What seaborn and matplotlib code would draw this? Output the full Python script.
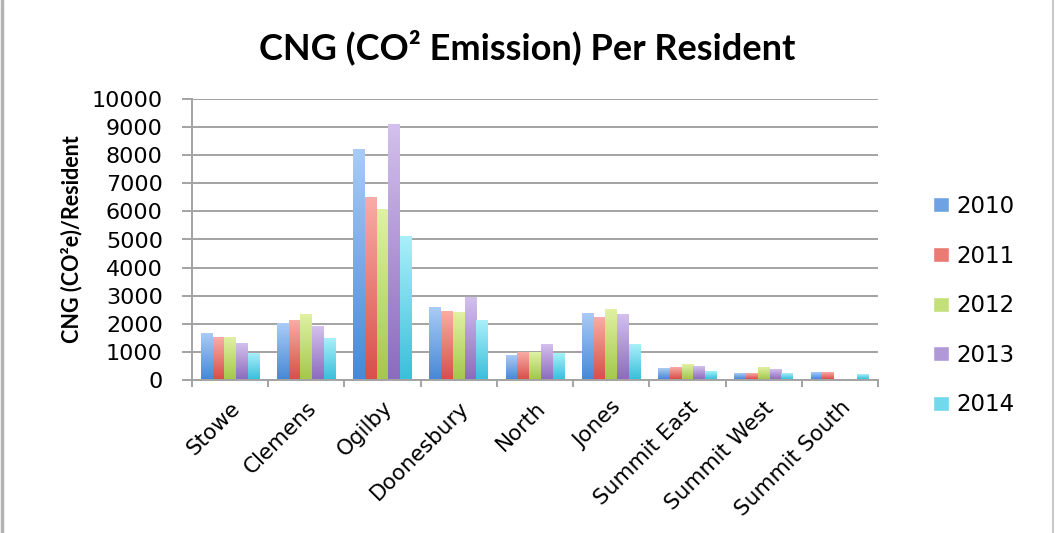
import numpy as np
import pandas as pd
import matplotlib
matplotlib.use("Agg")
import matplotlib.pyplot as plt
from matplotlib.lines import Line2D
import seaborn as sns

# Per-resident CNG emissions by district and year
districts = ["Stowe", "Clemens", "Ogilby", "Doonesbury", "North", "Jones",
             "Summit East", "Summit West", "Summit South"]
years = ["2010", "2011", "2012", "2013", "2014"]
v2010 = [1620, 2000, 8180, 2570, 850, 2330, 380, 180, 230]
v2011 = [1490, 2080, 6490, 2400, 960, 2190, 420, 180, 250]
v2012 = [1470, 2290, 6070, 2380, 950, 2480, 510, 400, 0]
v2013 = [1270, 1870, 9100, 2920, 1230, 2300, 460, 330, 0]
v2014 = [920, 1460, 5100, 2080, 900, 1230, 260, 190, 150]

series = {"2010": v2010, "2011": v2011, "2012": v2012, "2013": v2013, "2014": v2014}
df = pd.DataFrame(
    [(d, y, v) for y, vals in series.items() for d, v in zip(districts, vals)],
    columns=["district", "year", "value"],
)

# gradient colours per year: (top, bottom) plus a flat tone for the legend
tops = ["#a9cbf6", "#f8aca5", "#e0f1a3", "#d3c0ec", "#a9eff9"]
bottoms = ["#4889d6", "#d8504a", "#a4c84c", "#8c6cbe", "#3bbfdb"]
flat = ["#6fa2e2", "#ea7b73", "#c3df78", "#b198d6", "#72d8ec"]

sns.set_theme(style="white")
plt.rcParams["font.family"] = ["DejaVu Sans"]
plt.rcParams["text.color"] = "black"
plt.rcParams["axes.labelcolor"] = "black"

fig = plt.figure(figsize=(10.55, 5.33), dpi=100)
ax = fig.add_axes([192 / 1055, 1 - 379.5 / 533, (878 - 192) / 1055, (379.5 - 99.5) / 533])

sns.barplot(data=df, x="district", y="value", hue="year", order=districts,
            hue_order=years, palette=flat, width=0.77, gap=0,
            saturation=1, errorbar=None, ax=ax, legend=True, zorder=2)

# vertical gradient fill on every bar
n = 64
t = np.linspace(0, 1, n)[:, None, None]
for i, cont in enumerate(ax.containers):
    top = np.array(matplotlib.colors.to_rgb(tops[i]))
    bot = np.array(matplotlib.colors.to_rgb(bottoms[i]))
    grad = bot * (1 - t) + top * t
    for bar in cont:
        x0, w, h = bar.get_x(), bar.get_width(), bar.get_height()
        bar.set_edgecolor("none")
        if h <= 0:
            continue
        ax.imshow(grad, extent=[x0, x0 + w, 0, h], origin="lower",
                  aspect="auto", interpolation="bilinear", zorder=3)

ax.set_xlim(-0.5, len(districts) - 0.5)
ax.set_ylim(0, 10000)
ax.set_yticks(np.arange(0, 10001, 1000))
ax.grid(axis="y", color="#a3a3a3", linewidth=1.4, zorder=0)
ax.set_axisbelow(True)

for side in ["top", "right"]:
    ax.spines[side].set_visible(False)
for side in ["left", "bottom"]:
    ax.spines[side].set_color("#a3a3a3")
    ax.spines[side].set_linewidth(1.4)

ax.tick_params(axis="y", which="major", length=7, width=1.4, color="#a3a3a3",
               labelsize=16, pad=14, labelcolor="black", left=True)
ax.set_xticks(np.arange(len(districts)))
ax.set_xticks(np.arange(-0.5, len(districts), 1), minor=True)
ax.tick_params(axis="x", which="major", length=0, labelsize=15.5, pad=13,
               labelcolor="black")
ax.tick_params(axis="x", which="minor", length=5, width=1.4, color="#a3a3a3",
               bottom=True)
for lbl in ax.get_xticklabels():
    lbl.set_rotation(45)
    lbl.set_ha("right")
    lbl.set_rotation_mode("anchor")

ax.set_xlabel("")
ax.set_ylabel("CNG (CO²e)/Resident", fontsize=15.5, fontweight="bold",
              family=["Lato", "DejaVu Sans"], labelpad=7)

fig.suptitle("CNG (CO² Emission) Per Resident", x=527 / 1055, y=1 - 47 / 533,
             va="center", fontsize=26, fontweight="bold",
             family=["Lato", "DejaVu Sans"])

handles, labels = ax.get_legend_handles_labels()
ax.legend(handles, labels, loc="upper left",
          bbox_to_anchor=(933 / 1055, 1 - 195 / 533),
          bbox_transform=fig.transFigure, frameon=False, fontsize=16.5,
          handlelength=0.7, handleheight=0.63, handletextpad=0.33,
          labelspacing=1.16, borderpad=0, borderaxespad=0)

# thin grey frame lines at the figure's left and right edges
fig.add_artist(Line2D([2 / 1055, 2 / 1055], [0, 1], transform=fig.transFigure,
                      color="#b3b3b3", linewidth=2.5))
fig.add_artist(Line2D([1053 / 1055, 1053 / 1055], [0, 1], transform=fig.transFigure,
                      color="#c8c8c8", linewidth=1.5))

fig.savefig("out.png", dpi=100)
